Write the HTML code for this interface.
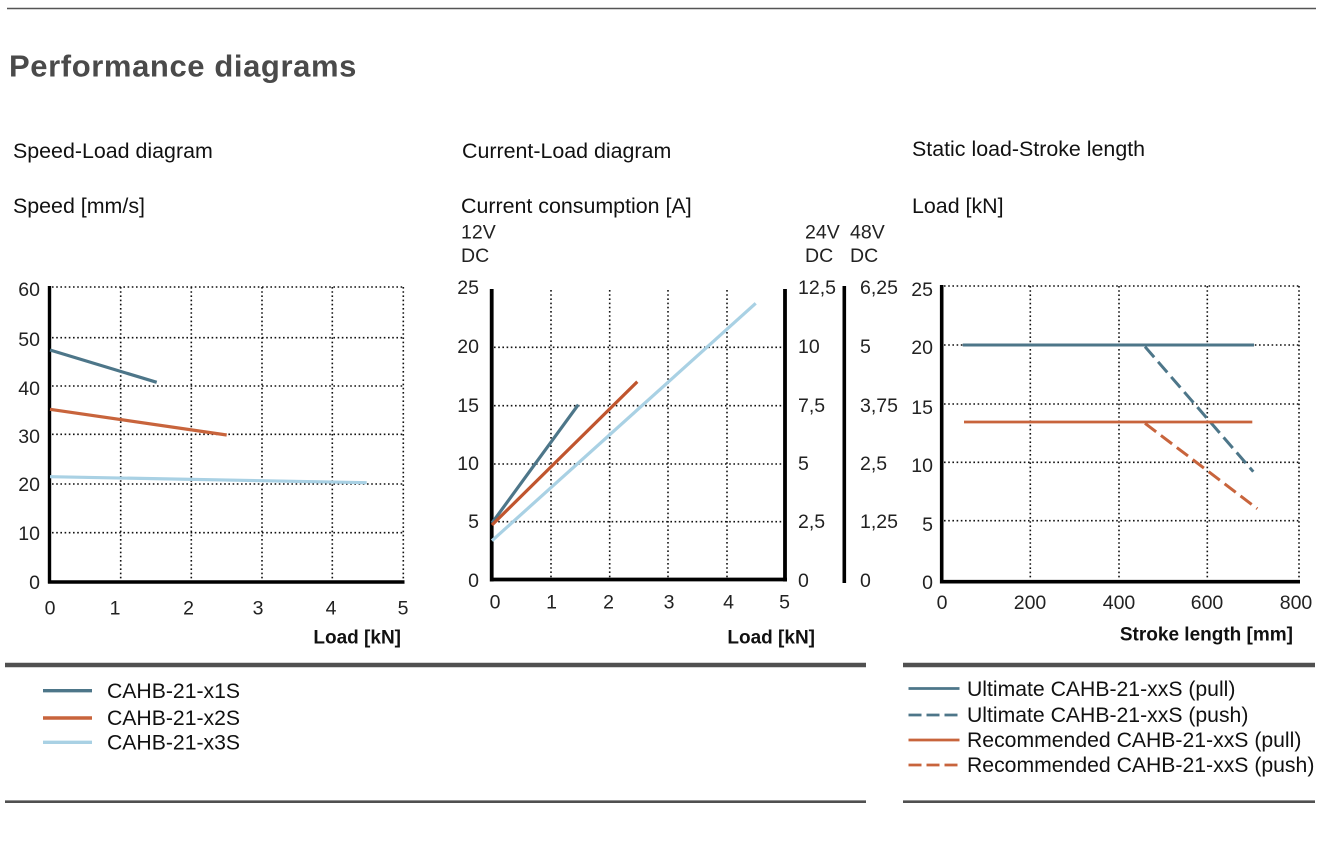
<!DOCTYPE html>
<html>
<head>
<meta charset="utf-8">
<style>
  html,body{margin:0;padding:0;background:#fff;}
  body{width:1322px;height:844px;overflow:hidden;}
  svg{display:block;}
  text{font-family:"Liberation Sans", Arial, sans-serif;}
</style>
</head>
<body>
<svg width="1322" height="844" viewBox="0 0 1322 844" xmlns="http://www.w3.org/2000/svg">
  <!-- top rule -->
  <line x1="7" y1="8.5" x2="1316" y2="8.5" stroke="#555" stroke-width="1.6"/>
  <!-- title -->
  <text x="9" y="76.5" font-size="31" font-weight="bold" fill="#4a4a4a" letter-spacing="0.6">Performance diagrams</text>

  <!-- section headers -->
  <g font-size="21.4" fill="#111">
    <text x="13" y="158">Speed-Load diagram</text>
    <text x="13" y="213">Speed [mm/s]</text>
    <text x="462" y="158">Current-Load diagram</text>
    <text x="461" y="213">Current consumption [A]</text>
    <text x="912" y="156">Static load-Stroke length</text>
    <text x="912" y="213">Load [kN]</text>
  </g>

  <!-- ================= Chart 1 ================= -->
  <g stroke="#111" stroke-width="1.6" stroke-dasharray="1.6 2.6" fill="none">
    <line x1="52" y1="287" x2="403" y2="287"/>
    <line x1="52" y1="337.7" x2="403" y2="337.7"/>
    <line x1="52" y1="386" x2="403" y2="386"/>
    <line x1="52" y1="434.3" x2="403" y2="434.3"/>
    <line x1="52" y1="484" x2="403" y2="484"/>
    <line x1="52" y1="532.7" x2="403" y2="532.7"/>
    <line x1="120.7" y1="287" x2="120.7" y2="580"/>
    <line x1="191.3" y1="287" x2="191.3" y2="580"/>
    <line x1="262" y1="287" x2="262" y2="580"/>
    <line x1="332.3" y1="287" x2="332.3" y2="580"/>
    <line x1="403.3" y1="287" x2="403.3" y2="580"/>
  </g>
  <line x1="49.5" y1="286" x2="49.5" y2="583.5" stroke="#000" stroke-width="3.4"/>
  <line x1="48" y1="582" x2="404.5" y2="582" stroke="#000" stroke-width="3.4"/>
  <g stroke-width="3.2" stroke-linecap="butt" fill="none">
    <line x1="50" y1="476.7" x2="366.7" y2="482.7" stroke="#a9d1e4"/>
    <line x1="50" y1="409.3" x2="226.7" y2="435" stroke="#c8643c"/>
    <line x1="50" y1="350" x2="156.7" y2="382.3" stroke="#4d7689"/>
  </g>
  <g font-size="19.5" fill="#222" text-anchor="end">
    <text x="40" y="296">60</text>
    <text x="40" y="346">50</text>
    <text x="40" y="395">40</text>
    <text x="40" y="443">30</text>
    <text x="40" y="491">20</text>
    <text x="40" y="540">10</text>
    <text x="40" y="589">0</text>
  </g>
  <g font-size="19.5" fill="#222" text-anchor="middle">
    <text x="50" y="614.5">0</text>
    <text x="115" y="614.5">1</text>
    <text x="188.5" y="614.5">2</text>
    <text x="258" y="614.5">3</text>
    <text x="331" y="614.5">4</text>
    <text x="403" y="614.5">5</text>
  </g>
  <text x="401" y="643.5" font-size="19" font-weight="bold" fill="#111" text-anchor="end">Load [kN]</text>

  <!-- ================= Chart 2 ================= -->
  <g font-size="19.5" fill="#222">
    <text x="461" y="238.5">12V</text>
    <text x="461" y="262">DC</text>
    <text x="805" y="238.5">24V</text>
    <text x="805" y="262">DC</text>
    <text x="850" y="238.5">48V</text>
    <text x="850" y="262">DC</text>
  </g>
  <g stroke="#111" stroke-width="1.6" stroke-dasharray="1.6 2.6" fill="none">
    <line x1="494" y1="347.3" x2="783" y2="347.3"/>
    <line x1="494" y1="405.7" x2="783" y2="405.7"/>
    <line x1="494" y1="464" x2="783" y2="464"/>
    <line x1="494" y1="521.7" x2="783" y2="521.7"/>
    <line x1="551" y1="290" x2="551" y2="578"/>
    <line x1="609.7" y1="290" x2="609.7" y2="578"/>
    <line x1="668" y1="290" x2="668" y2="578"/>
    <line x1="727" y1="290" x2="727" y2="578"/>
  </g>
  <line x1="491.7" y1="289" x2="491.7" y2="581.5" stroke="#000" stroke-width="3.8"/>
  <line x1="490" y1="579.5" x2="787" y2="579.5" stroke="#000" stroke-width="3.8"/>
  <line x1="785" y1="289" x2="785" y2="581.5" stroke="#000" stroke-width="3.8"/>
  <line x1="844.3" y1="286" x2="844.3" y2="583" stroke="#000" stroke-width="3.6"/>
  <g stroke-width="3.2" fill="none">
    <line x1="492" y1="540.7" x2="755.7" y2="303.3" stroke="#a9d1e4"/>
    <line x1="492" y1="523" x2="578.3" y2="404.7" stroke="#4d7689"/>
    <line x1="492" y1="525" x2="637.3" y2="381.7" stroke="#c0552e"/>
  </g>
  <g font-size="19.5" fill="#222" text-anchor="end">
    <text x="479" y="294">25</text>
    <text x="479" y="353">20</text>
    <text x="479" y="412">15</text>
    <text x="479" y="470">10</text>
    <text x="479" y="528">5</text>
    <text x="479" y="587">0</text>
  </g>
  <g font-size="19.5" fill="#222">
    <text x="798" y="294">12,5</text>
    <text x="798" y="353">10</text>
    <text x="798" y="412">7,5</text>
    <text x="798" y="470">5</text>
    <text x="798" y="528">2,5</text>
    <text x="798" y="587">0</text>
    <text x="860" y="294">6,25</text>
    <text x="860" y="353">5</text>
    <text x="860" y="412">3,75</text>
    <text x="860" y="470">2,5</text>
    <text x="860" y="528">1,25</text>
    <text x="860" y="587">0</text>
  </g>
  <g font-size="19.5" fill="#222" text-anchor="middle">
    <text x="495" y="608.5">0</text>
    <text x="551.5" y="608.5">1</text>
    <text x="608.5" y="608.5">2</text>
    <text x="669" y="608.5">3</text>
    <text x="728.5" y="608.5">4</text>
    <text x="784.5" y="608.5">5</text>
  </g>
  <text x="815" y="643.5" font-size="19" font-weight="bold" fill="#111" text-anchor="end">Load [kN]</text>

  <!-- ================= Chart 3 ================= -->
  <g stroke="#111" stroke-width="1.6" stroke-dasharray="1.6 2.6" fill="none">
    <line x1="944" y1="286" x2="1299" y2="286"/>
    <line x1="944" y1="345" x2="1299" y2="345"/>
    <line x1="944" y1="404" x2="1299" y2="404"/>
    <line x1="944" y1="462.3" x2="1299" y2="462.3"/>
    <line x1="944" y1="520.7" x2="1299" y2="520.7"/>
    <line x1="1030.3" y1="286" x2="1030.3" y2="580"/>
    <line x1="1119" y1="286" x2="1119" y2="580"/>
    <line x1="1207.3" y1="286" x2="1207.3" y2="580"/>
    <line x1="1299" y1="286" x2="1299" y2="580"/>
  </g>
  <line x1="941.7" y1="285" x2="941.7" y2="583.5" stroke="#000" stroke-width="3.6"/>
  <line x1="940" y1="581.7" x2="1300" y2="581.7" stroke="#000" stroke-width="3.6"/>
  <g fill="none">
    <line x1="962.7" y1="345" x2="1254" y2="345" stroke="#4d7689" stroke-width="3"/>
    <line x1="1145" y1="346.7" x2="1253.3" y2="471.7" stroke="#4d7689" stroke-width="3" stroke-dasharray="14 6"/>
    <line x1="964" y1="422" x2="1252.3" y2="422" stroke="#c8643c" stroke-width="2.8"/>
    <line x1="1145" y1="423.3" x2="1257.3" y2="508.7" stroke="#c8643c" stroke-width="3" stroke-dasharray="14 6"/>
  </g>
  <g font-size="19.5" fill="#222" text-anchor="end">
    <text x="933" y="296">25</text>
    <text x="933" y="354">20</text>
    <text x="933" y="414">15</text>
    <text x="933" y="472">10</text>
    <text x="933" y="531">5</text>
    <text x="933" y="589">0</text>
  </g>
  <g font-size="19.5" fill="#222" text-anchor="middle">
    <text x="942" y="609">0</text>
    <text x="1030" y="609">200</text>
    <text x="1119" y="609">400</text>
    <text x="1207" y="609">600</text>
    <text x="1296" y="609">800</text>
  </g>
  <text x="1293" y="640.5" font-size="19" font-weight="bold" fill="#111" text-anchor="end">Stroke length [mm]</text>

  <!-- ================= Legend separators ================= -->
  <g stroke="#505050">
    <line x1="5" y1="665" x2="866" y2="665" stroke-width="4.5"/>
    <line x1="903" y1="665" x2="1315" y2="665" stroke-width="4.5"/>
    <line x1="5" y1="801.7" x2="866" y2="801.7" stroke-width="2.6"/>
    <line x1="903" y1="801.7" x2="1315" y2="801.7" stroke-width="2.6"/>
  </g>

  <!-- Left legend -->
  <g stroke-width="3.4">
    <line x1="43" y1="690.7" x2="92" y2="690.7" stroke="#4d7689"/>
    <line x1="43" y1="718" x2="92" y2="718" stroke="#c8643c"/>
    <line x1="43" y1="742.3" x2="92" y2="742.3" stroke="#a9d1e4"/>
  </g>
  <g font-size="21.2" fill="#111">
    <text x="107" y="698">CAHB-21-x1S</text>
    <text x="107" y="725">CAHB-21-x2S</text>
    <text x="107" y="749.5">CAHB-21-x3S</text>
  </g>

  <!-- Right legend -->
  <g stroke-width="2.8">
    <line x1="908.5" y1="688.5" x2="959.5" y2="688.5" stroke="#4d7689"/>
    <line x1="908.5" y1="715" x2="959.5" y2="715" stroke="#4d7689" stroke-dasharray="13 5"/>
    <line x1="908.5" y1="740" x2="959.5" y2="740" stroke="#c8643c"/>
    <line x1="908.5" y1="765" x2="959.5" y2="765" stroke="#c8643c" stroke-dasharray="13 5"/>
  </g>
  <g font-size="21.2" fill="#111">
    <text x="967" y="696">Ultimate CAHB-21-xxS (pull)</text>
    <text x="967" y="722">Ultimate CAHB-21-xxS (push)</text>
    <text x="967" y="747">Recommended CAHB-21-xxS (pull)</text>
    <text x="967" y="772">Recommended CAHB-21-xxS (push)</text>
  </g>
</svg>
</body>
</html>
